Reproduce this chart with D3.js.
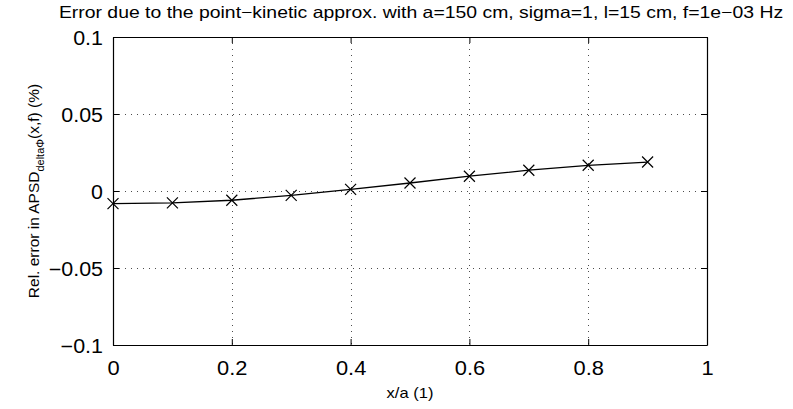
<!DOCTYPE html>
<html>
<head>
<meta charset="utf-8">
<script src="https://cdn.jsdelivr.net/npm/d3@7"></script>
<style>
  html, body { margin: 0; padding: 0; background: #fff; }
  svg text { font-family: "Liberation Sans", Arial, Helvetica, sans-serif; fill: #000; }
</style>
</head>
<body>
<svg id="chart" width="793" height="409"></svg>
<script>
// Relative error along x/a for the point-kinetic approximation
const xPos = [0, 0.1, 0.2, 0.3, 0.4, 0.5, 0.6, 0.7, 0.8, 0.9];
const relError = [-0.0082, -0.0077, -0.0060, -0.0028, 0.0011, 0.0052, 0.0096, 0.0135, 0.0167, 0.0188];
const xTicks = [0, 0.2, 0.4, 0.6, 0.8, 1];
const yTicks = [-0.1, -0.05, 0, 0.05, 0.1];
const xTickLabels = ["0", "0.2", "0.4", "0.6", "0.8", "1"];
const yTickLabels = ["\u22120.1", "\u22120.05", "0", "0.05", "0.1"];

const svg = d3.select("#chart");
const m = { left: 113, right: 707, top: 37, bottom: 345 };

const x = d3.scaleLinear().domain([0, 1]).range([m.left, m.right]);
const y = d3.scaleLinear().domain([-0.1, 0.1]).range([m.bottom, m.top]);

// widen glyphs horizontally by a factor, keeping the anchor point
function widen(sel, k) {
  sel.each(function () {
    const len = this.getComputedTextLength();
    this.setAttribute("textLength", (len * k).toFixed(1));
    this.setAttribute("lengthAdjust", "spacingAndGlyphs");
  });
}

// dotted grid
const grid = svg.append("g").attr("stroke", "#000").attr("stroke-width", 1)
  .attr("stroke-dasharray", "1,5").attr("shape-rendering", "crispEdges");
xTicks.slice(1, -1).forEach(t => {
  grid.append("line").attr("x1", Math.round(x(t)) + 0.5).attr("x2", Math.round(x(t)) + 0.5)
    .attr("y1", m.top).attr("y2", m.bottom).attr("stroke-opacity", 0.7);
});
yTicks.slice(1, -1).forEach(t => {
  grid.append("line").attr("y1", Math.round(y(t)) + 0.5).attr("y2", Math.round(y(t)) + 0.5)
    .attr("x1", m.left).attr("x2", m.right).attr("stroke-opacity", 0.7);
});

// axes with inward ticks on all four sides
const tl = 6;
const fmtX = (d, i) => xTickLabels[i];
const fmtY = (d, i) => yTickLabels[i];
const axB = svg.append("g").attr("transform", `translate(0,${m.bottom})`)
  .call(d3.axisBottom(x).tickValues(xTicks).tickFormat(fmtX).tickSizeInner(-tl).tickSizeOuter(0).tickPadding(16));
const axT = svg.append("g").attr("transform", `translate(0,${m.top})`)
  .call(d3.axisTop(x).tickValues(xTicks).tickFormat("").tickSizeInner(-tl).tickSizeOuter(0));
const axL = svg.append("g").attr("transform", `translate(${m.left},0)`)
  .call(d3.axisLeft(y).tickValues(yTicks).tickFormat(fmtY).tickSizeInner(-tl).tickSizeOuter(0).tickPadding(10));
const axR = svg.append("g").attr("transform", `translate(${m.right},0)`)
  .call(d3.axisRight(y).tickValues(yTicks).tickFormat("").tickSizeInner(-tl).tickSizeOuter(0));
[axB, axT, axL, axR].forEach(a => {
  a.select(".domain").attr("stroke", "#000").attr("stroke-width", 1.2);
  a.selectAll(".tick line").attr("stroke", "#000");
  a.selectAll("text").attr("font-size", 19.5).attr("font-family", "Liberation Sans, Arial, sans-serif");
});
axL.selectAll("text").attr("dy", "0.36em");
axB.selectAll("text").attr("dy", "0.71em");
widen(axL.selectAll("text"), 1.1);
widen(axB.selectAll("text"), 1.12);

// curve
const line = d3.line().x((d, i) => x(xPos[i])).y(d => y(d));
svg.append("path").datum(relError).attr("d", line)
  .attr("fill", "none").attr("stroke", "#000").attr("stroke-width", 1.3);

// x markers
const s = 5.5;
svg.append("g").selectAll("path").data(relError).join("path")
  .attr("d", (d, i) => {
    const cx = x(xPos[i]), cy = y(d);
    return `M${cx - s},${cy - s}L${cx + s},${cy + s}M${cx - s},${cy + s}L${cx + s},${cy - s}`;
  })
  .attr("stroke", "#000").attr("stroke-width", 1.2).attr("fill", "none");

// title and axis labels
const title = svg.append("text").attr("x", 421).attr("y", 18)
  .attr("text-anchor", "middle").attr("font-size", 16.5)
  .text("Error due to the point\u2212kinetic approx. with a=150 cm, sigma=1, l=15 cm, f=1e\u221203 Hz");
widen(title, 1.175);

const xl = svg.append("text").attr("x", (m.left + m.right) / 2).attr("y", 398)
  .attr("text-anchor", "middle").attr("font-size", 15).text("x/a (1)");
widen(xl, 1.1);

const yl = svg.append("text").attr("transform", `translate(39,${(m.top + m.bottom) / 2}) rotate(-90)`)
  .attr("text-anchor", "middle").attr("font-size", 15.5);
yl.append("tspan").text("Rel. error in APSD");
yl.append("tspan").attr("font-size", 11).attr("dy", 5).text("deltaΦ");
yl.append("tspan").attr("dy", -5).text("(x,f) (%)");
</script>
</body>
</html>
